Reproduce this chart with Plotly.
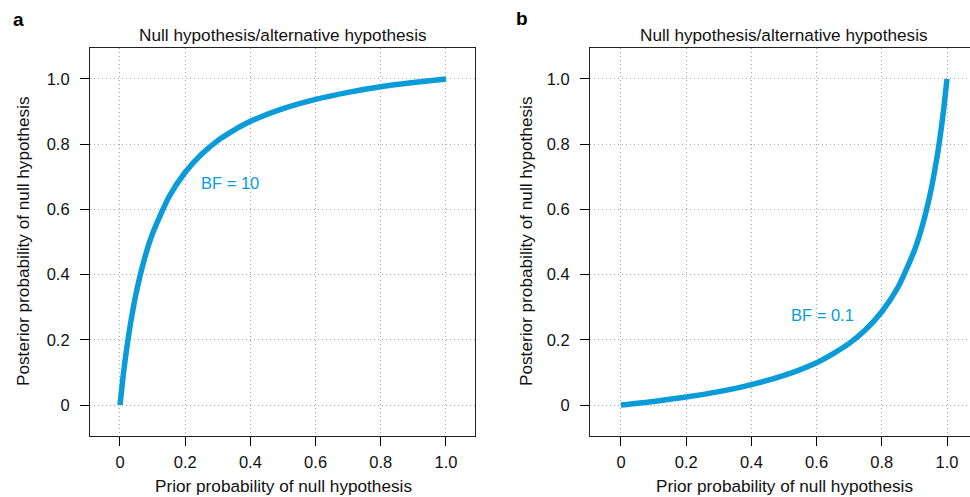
import plotly.graph_objects as go

# Data
prior_a = [0, 0.01, 0.02, 0.03, 0.05, 0.075, 0.1, 0.15, 0.2, 0.25, 0.3, 0.35, 0.4, 0.5, 0.6, 0.7, 0.8, 0.9, 1.0]
post_a = [0, 0.092, 0.169, 0.236, 0.345, 0.448, 0.526, 0.638, 0.714, 0.769, 0.811, 0.843, 0.870, 0.909, 0.9375, 0.959, 0.976, 0.989, 1.0]

prior_b = [0, 0.1, 0.2, 0.3, 0.4, 0.5, 0.6, 0.65, 0.7, 0.75, 0.8, 0.85, 0.9, 0.925, 0.95, 0.97, 0.98, 0.99, 1.0]
post_b = [0, 0.011, 0.0244, 0.0411, 0.0625, 0.0909, 0.130, 0.157, 0.189, 0.231, 0.286, 0.362, 0.474, 0.552, 0.655, 0.764, 0.831, 0.908, 1.0]

tick_vals = [0, 0.2, 0.4, 0.6, 0.8, 1.0]
tick_text = ["0", "0.2", "0.4", "0.6", "0.8", "1.0"]

panel_title = "Null hypothesis/alternative hypothesis"
x_title = "Prior probability of null hypothesis"
y_title = "Posterior probability of null hypothesis"
label_a = "BF = 10"
label_b = "BF = 0.1"

BLUE = "#0a9bd8"
FONT = "Liberation Sans, Arial, Helvetica, sans-serif"
W, H = 970, 497
TS = 17.2

fig = go.Figure()
fig.add_trace(go.Scatter(x=prior_a, y=post_a, mode="lines",
                         line=dict(color=BLUE, width=5.5, shape="spline", smoothing=0.6),
                         xaxis="x", yaxis="y", showlegend=False, hoverinfo="skip"))
fig.add_trace(go.Scatter(x=prior_b, y=post_b, mode="lines",
                         line=dict(color=BLUE, width=5.5, shape="spline", smoothing=0.6),
                         xaxis="x2", yaxis="y2", showlegend=False, hoverinfo="skip"))

ydom = [1 - 436 / H, 1 - 48 / H]
xdom_a = [90 / W, 475 / W]
xdom_b = [590 / W, 1.0]

common = dict(
    tickvals=tick_vals, ticktext=tick_text,
    ticks="outside", ticklen=9, tickwidth=1, tickcolor="black",
    showline=True, linecolor="#222", linewidth=1.2, mirror=True,
    showgrid=True, gridcolor="#a8a8a8", griddash="1px,3px", gridwidth=1,
    zeroline=False, tickfont=dict(family=FONT, size=16.5, color="#111"),
    fixedrange=True,
)

fig.update_layout(
    width=W, height=H,
    margin=dict(l=0, r=0, t=0, b=0),
    paper_bgcolor="white", plot_bgcolor="white",
    font=dict(family=FONT, color="#111"),
    xaxis=dict(domain=xdom_a, range=[-0.092, 1.089], anchor="y", ticklabelstandoff=2, **common),
    yaxis=dict(domain=ydom, range=[-0.095, 1.095], anchor="x", ticklabelstandoff=7, **common),
    xaxis2=dict(domain=xdom_b, range=[-0.095, 1.0 + (970 - 947) / 326], anchor="y2", ticklabelstandoff=2, **common),
    yaxis2=dict(domain=ydom, range=[-0.095, 1.095], anchor="x2", ticklabelstandoff=7, **common),
)

ann = []
# panel titles
for cx in [(90 + 475) / 2, 621 + 163]:
    ann.append(dict(x=cx / W, y=1 - 35 / H, xref="paper", yref="paper", text=panel_title,
                    showarrow=False, font=dict(family=FONT, size=TS, color="#111"),
                    xanchor="center", yanchor="middle"))
# x axis titles
for cx in [120 + 163, 621 + 163]:
    ann.append(dict(x=cx / W, y=1 - 486 / H, xref="paper", yref="paper", text=x_title,
                    showarrow=False, font=dict(family=FONT, size=TS, color="#111"),
                    xanchor="center", yanchor="middle"))
# y axis titles
for cx in [23, 526]:
    ann.append(dict(x=cx / W, y=1 - 242 / H, xref="paper", yref="paper", text=y_title,
                    showarrow=False, textangle=-90, font=dict(family=FONT, size=TS, color="#111"),
                    xanchor="center", yanchor="middle"))
# panel letters
ann.append(dict(x=18 / W, y=1 - 19 / H, xref="paper", yref="paper", text="<b>a</b>",
                showarrow=False, font=dict(family=FONT, size=19, color="black"),
                xanchor="center", yanchor="middle"))
ann.append(dict(x=522 / W, y=1 - 18 / H, xref="paper", yref="paper", text="<b>b</b>",
                showarrow=False, font=dict(family=FONT, size=19, color="black"),
                xanchor="center", yanchor="middle"))
# BF labels
ann.append(dict(x=0.337, y=0.681, xref="x", yref="y", text=label_a, showarrow=False,
                font=dict(family=FONT, size=16.5, color=BLUE), xanchor="center", yanchor="middle"))
ann.append(dict(x=0.617, y=0.276, xref="x2", yref="y2", text=label_b, showarrow=False,
                font=dict(family=FONT, size=16.5, color=BLUE), xanchor="center", yanchor="middle"))

fig.update_layout(annotations=ann)
fig.write_html("out.html", config={"displayModeBar": False},
               post_script="document.body.style.margin='0';document.body.style.overflow='hidden';")
